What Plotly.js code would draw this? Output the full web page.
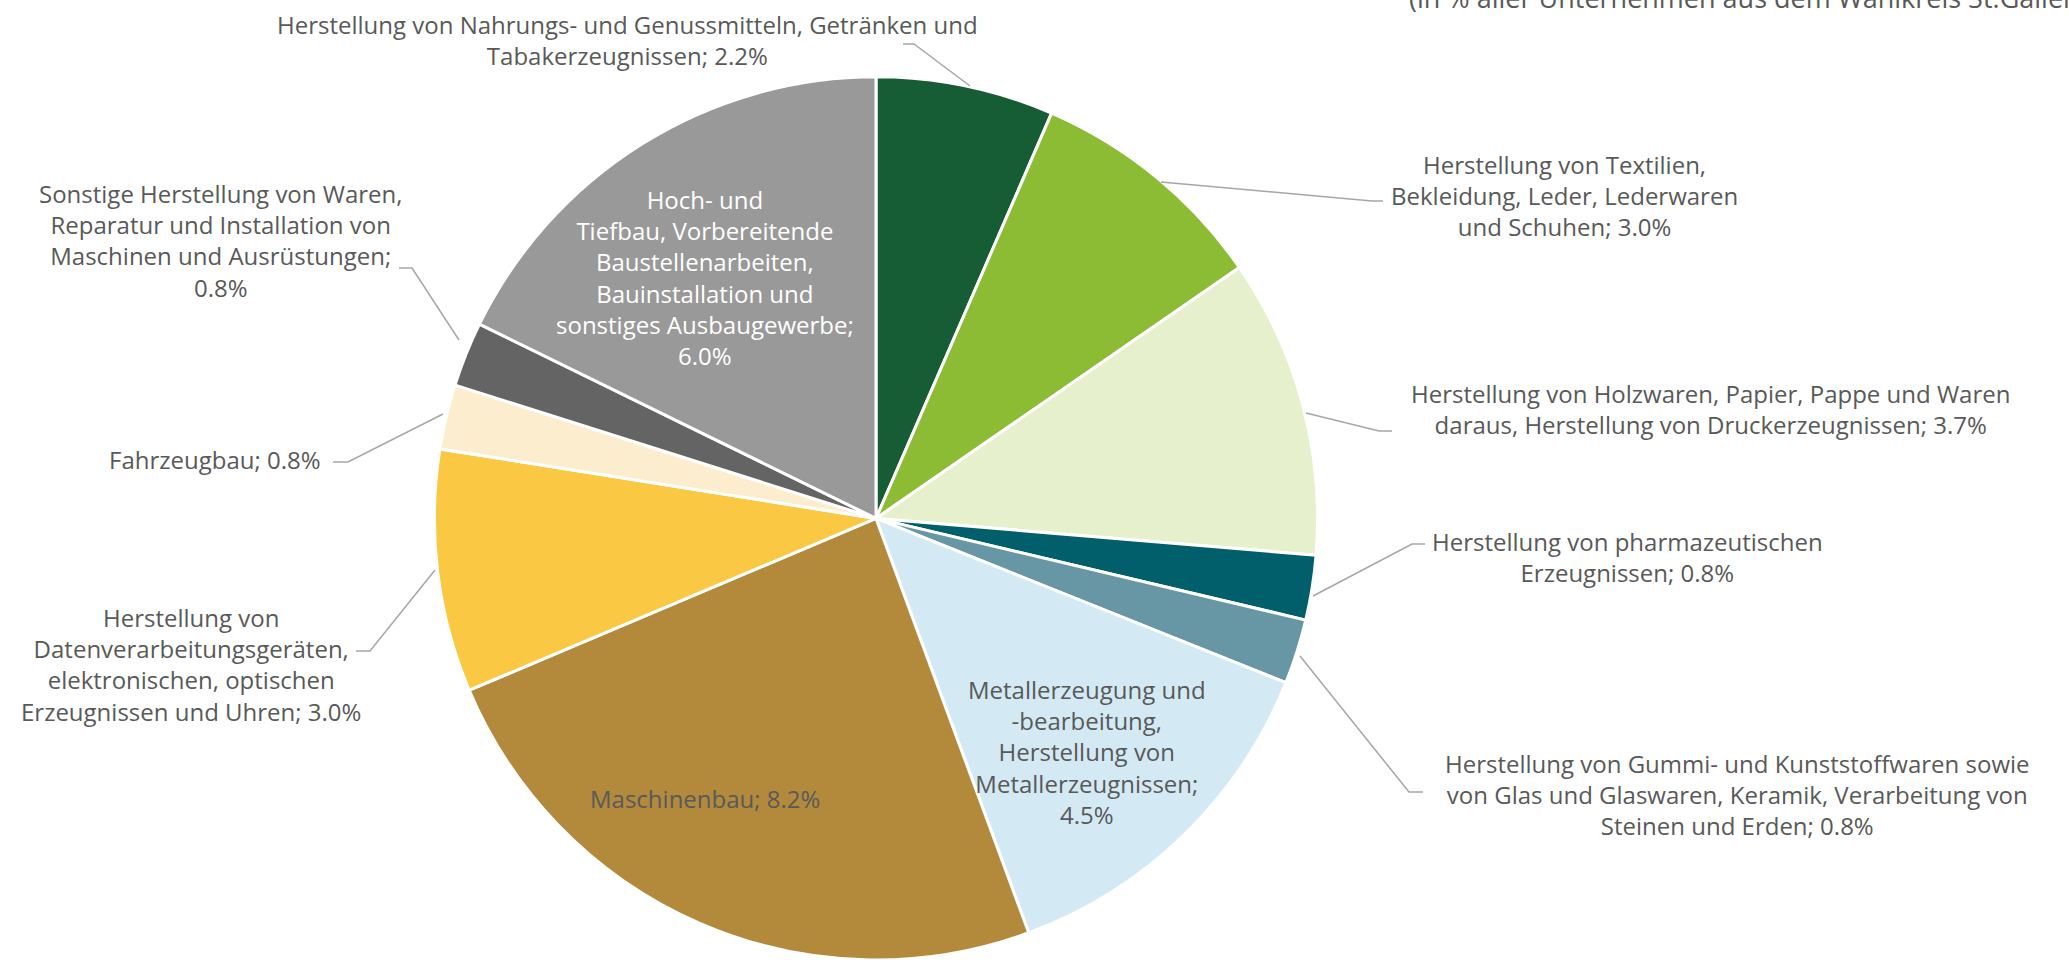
<!DOCTYPE html>
<html>
<head>
<meta charset="utf-8">
<script src="https://cdn.plot.ly/plotly-3.0.1.min.js"></script>
<style>html,body{margin:0;padding:0;background:#fff;overflow:hidden}#chart{width:2069px;height:960px}</style>
</head>
<body>
<div id="chart"></div>
<script>
// ---- data ----
const categories = [
  "Herstellung von Nahrungs- und Genussmitteln, Getränken und Tabakerzeugnissen",
  "Herstellung von Textilien, Bekleidung, Leder, Lederwaren und Schuhen",
  "Herstellung von Holzwaren, Papier, Pappe und Waren daraus, Herstellung von Druckerzeugnissen",
  "Herstellung von pharmazeutischen Erzeugnissen",
  "Herstellung von Gummi- und Kunststoffwaren sowie von Glas und Glaswaren, Keramik, Verarbeitung von Steinen und Erden",
  "Metallerzeugung und -bearbeitung, Herstellung von Metallerzeugnissen",
  "Maschinenbau",
  "Herstellung von Datenverarbeitungsgeräten, elektronischen, optischen Erzeugnissen und Uhren",
  "Fahrzeugbau",
  "Sonstige Herstellung von Waren, Reparatur und Installation von Maschinen und Ausrüstungen",
  "Hoch- und Tiefbau, Vorbereitende Baustellenarbeiten, Bauinstallation und sonstiges Ausbaugewerbe"
];
const values = [2.2, 3.0, 3.7, 0.8, 0.8, 4.5, 8.2, 3.0, 0.8, 0.8, 6.0];
const titleText = "(in % aller Unternehmen aus dem Wahlkreis St.Gallen)";

// ---- styles ----
const colors = ["#165C34","#8CBC34","#E7F0CD","#005F6A","#6797A5","#D3EAF4",
                "#B38A3C","#FAC843","#FDEDCF","#646464","#999999"];
const W = 2069, H = 960;
const FONT = "Open Sans, Noto Sans, sans-serif";
const TXT = "#595959";
// label layout: centre (px), words per line, text colour, leader path (px)
const labelLayout = [
  {x:627,  y:40,  words:[7,2],         lead:[[903,44],[914,44],[970,86]]},
  {x:1564, y:195, words:[3,3,3],       lead:[[1161,182],[1372,201],[1383,201]]},
  {x:1710, y:409, words:[7,5],         lead:[[1306,413],[1379,431],[1392,431]]},
  {x:1627, y:557, words:[3,2],         lead:[[1313,596],[1412,544],[1425,544]]},
  {x:1737, y:794, words:[6,7,4],       lead:[[1300,656],[1409,792],[1423,792]]},
  {x:1087, y:752, words:[2,1,2,1,1]},
  {x:705,  y:798, words:[2]},
  {x:191,  y:664, words:[2,1,2,4],     lead:[[435,570],[370,651],[356,651]]},
  {x:215,  y:459, words:[2],           lead:[[443,414],[348,462],[333,462]]},
  {x:220,  y:240, words:[4,4,3,1],     lead:[[459,340],[412,268],[399,268]]},
  {x:705,  y:277, words:[2,2,1,2,2,1], color:"#FFFFFF"}
];

function wrapLabel(text, words){
  const w = text.split(" ");
  const lines = []; let i = 0;
  words.forEach(n => { lines.push(w.slice(i, i+n).join(" ")); i += n; });
  return lines.join("<br>");
}
const px = x => x / W, py = y => 1 - y / H;

const annotations = categories.map((c, i) => {
  const L = labelLayout[i];
  const txt = wrapLabel(c + "; " + values[i].toFixed(1) + "%", L.words);
  return {text: txt, x: px(L.x), y: py(L.y), xref:"paper", yref:"paper",
    xanchor:"center", yanchor:"middle", align:"center", showarrow:false,
    font:{family:FONT, size:24, color:L.color || TXT}};
});
annotations.push({text: titleText, x: px(1407), y: py(-2), xref:"paper", yref:"paper",
  xanchor:"left", yanchor:"middle", showarrow:false,
  font:{family:FONT, size:27, color:TXT}});

const shapes = labelLayout.filter(L => L.lead).map(L => ({
  type:"path", xref:"paper", yref:"paper",
  path: L.lead.map((p, k) => (k ? "L" : "M") + px(p[0]) + "," + py(p[1])).join(" "),
  line:{color:"#A6A6A6", width:1.5}
}));

const cx = 876, r = 442;
const trace = {
  type:"pie", labels:categories, values:values, sort:false, direction:"clockwise",
  rotation:0, textinfo:"none", hoverinfo:"label+value",
  marker:{colors:colors, line:{color:"#FFFFFF", width:3}},
  domain:{x:[(cx - r)/W, (cx + r)/W], y:[0, 0.92]}
};

Plotly.newPlot("chart", [trace], {
  width:W, height:H, margin:{l:0,r:0,t:0,b:0},
  paper_bgcolor:"#FFFFFF", showlegend:false,
  annotations:annotations, shapes:shapes,
  font:{family:FONT, color:TXT}
}, {displayModeBar:false, staticPlot:true});
</script>
</body>
</html>
